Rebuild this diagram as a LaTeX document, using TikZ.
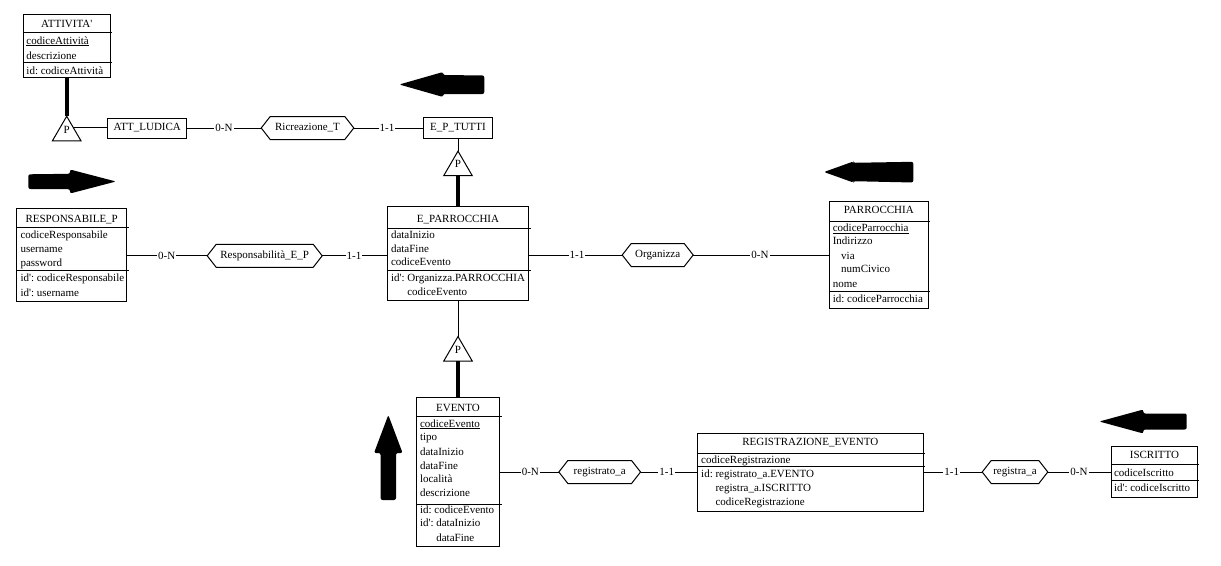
\documentclass[tikz,border=0pt]{standalone}
\usepackage{fontspec}
\setmainfont{Liberation Serif}
\usetikzlibrary{calc}
% straight apostrophe as used in identifier labels
\newcommand{\ap}{\textquotesingle}
% underlined primary-key attribute
\newcommand{\keyattr}[1]{\setbox0\hbox{#1}\rlap{\rule[-1.6pt]{\wd0}{0.9pt}}\box0}
% horizontal separator inside an entity box, slightly overshooting the right edge
\newcommand{\sepline}[2]{\draw (#1.west |- 0,#2) -- ($(#1.east |- 0,#2)+(1.5,0)$);}
% relationship: hexagon around a named node
\newcommand{\relship}[5]{%
  \node[relbox, minimum width=#4pt] (#1) at (#2,#3) {#5};
  \draw (#1.west) -- ($(#1.north west)+(9,0)$) -- ($(#1.north east)+(-9,0)$)
    -- (#1.east) -- ($(#1.south east)+(-9,0)$) -- ($(#1.south west)+(9,0)$) -- cycle;}
% is-a triangle marked P
\newcommand{\isatri}[3]{%
  \node[isa] (#1) at (#2,#3) {};
  \draw (#1.north) -- (#1.south east) -- (#1.south west) -- cycle;
  \node[anchor=base, inner sep=0pt] (#1-p) at ($(#1.south)+(0,-7.7)$) {P};}
\begin{document}
\frenchspacing
\begin{tikzpicture}[x=1pt, y=-1pt, line width=1pt,
  font=\fontsize{11}{13}\selectfont,
  box/.style={draw, inner sep=0pt},
  lbl/.style={anchor=base west, inner sep=0pt},
  ttl/.style={anchor=base, inner sep=0pt},
  single/.style={draw, inner sep=0pt, text height=7.3pt, text depth=1.6pt},
  relbox/.style={inner sep=0pt, minimum height=22pt, text height=7.3pt, text depth=1.6pt},
  card/.style={fill=white, inner sep=1pt, text height=7.3pt, text depth=0pt},
  isa/.style={inner sep=0pt, minimum width=27.5pt, minimum height=23.5pt},
  heavy/.style={line width=4pt},
  bigarrow/.style={fill=black, rounded corners=2pt}]

\fill[white] (0,0) rectangle (1221,565);
\useasboundingbox (0,0) rectangle (1221,565);

% ---------- ATTIVITA'
\node[box, minimum width=86.7pt, minimum height=63pt] (att) at (66.7,45.8) {};
\node[ttl] (att-t) at (66.7,27.2) {ATTIVITA\ap};
\sepline{att}{32.3}
\node[lbl] (att-1) at (26,44.2) {\keyattr{codiceAttività}};
\node[lbl] (att-2) at (26,59.4) {descrizione};
\sepline{att}{62.7}
\node[lbl] (att-3) at (26,74.5) {id: codiceAttività};

% ---------- ATT_LUDICA and E_P_TUTTI
\node[single, minimum width=78.7pt, minimum height=20pt] (lud) at (147.3,128) {ATT\_LUDICA};
\node[single, minimum width=68.4pt, minimum height=21pt] (ept) at (458,128) {E\_P\_TUTTI};

% ---------- RESPONSABILE_P
\node[box, minimum width=110pt, minimum height=92.7pt] (resp) at (71.7,254.65) {};
\node[ttl] (resp-t) at (71.7,222) {RESPONSABILE\_P};
\sepline{resp}{227.7}
\node[lbl] (resp-1) at (20,238.5) {codiceResponsabile};
\node[lbl] (resp-2) at (20,252.8) {username};
\node[lbl] (resp-3) at (20,266.2) {password};
\sepline{resp}{270}
\node[lbl] (resp-4) at (20,281.8) {id\ap: codiceResponsabile};
\node[lbl] (resp-5) at (20,296.2) {id\ap: username};

% ---------- E_PARROCCHIA
\node[box, minimum width=141.6pt, minimum height=93.3pt] (epar) at (458,253.35) {};
\node[ttl] (epar-t) at (458,222) {E\_PARROCCHIA};
\sepline{epar}{228.3}
\node[lbl] (epar-1) at (390.5,238.2) {dataInizio};
\node[lbl] (epar-2) at (390.5,252.5) {dataFine};
\node[lbl] (epar-3) at (390.5,265.8) {codiceEvento};
\sepline{epar}{270}
\node[lbl] (epar-4) at (390.5,281.8) {id\ap: Organizza.PARROCCHIA};
\node[lbl] (epar-5) at (390.5,295.8) {\phantom{id\ap: }codiceEvento};

% ---------- PARROCCHIA
\node[box, minimum width=99pt, minimum height=107.3pt] (par) at (878.8,254.65) {};
\node[ttl] (par-t) at (878.8,213.6) {PARROCCHIA};
\sepline{par}{221}
\node[lbl] (par-1) at (832.3,231.8) {\keyattr{codiceParrocchia}};
\node[lbl] (par-2) at (832.3,244.8) {Indirizzo};
\node[lbl] (par-3) at (840.7,259.2) {via};
\node[lbl] (par-4) at (840.7,272.8) {numCivico};
\node[lbl] (par-5) at (832.3,287.5) {nome};
\sepline{par}{291.7}
\node[lbl] (par-6) at (832.3,302.8) {id: codiceParrocchia};

% ---------- EVENTO
\node[box, minimum width=83.3pt, minimum height=149pt] (ev) at (458,472) {};
\node[ttl] (ev-t) at (458,411) {EVENTO};
\sepline{ev}{416.7}
\node[lbl] (ev-1) at (419.5,427.5) {\keyattr{codiceEvento}};
\node[lbl] (ev-2) at (419.5,440.8) {tipo};
\node[lbl] (ev-3) at (419.5,455.2) {dataInizio};
\node[lbl] (ev-4) at (419.5,469.2) {dataFine};
\node[lbl] (ev-5) at (419.5,482.8) {località};
\node[lbl] (ev-6) at (419.5,496.8) {descrizione};
\sepline{ev}{504}
\node[lbl] (ev-7) at (419.5,513.5) {id: codiceEvento};
\node[lbl] (ev-8) at (419.5,526.8) {id\ap: dataInizio};
\node[lbl] (ev-9) at (419.5,541.2) {\phantom{id\ap: }dataFine};

% ---------- REGISTRAZIONE_EVENTO
\node[box, minimum width=226pt, minimum height=78pt] (reg) at (810.3,472) {};
\node[ttl] (reg-t) at (810.3,445.3) {REGISTRAZIONE\_EVENTO};
\sepline{reg}{453.3}
\node[lbl] (reg-1) at (700.7,463.5) {codiceRegistrazione};
\sepline{reg}{466.7}
\node[lbl] (reg-2) at (700.7,477) {id: registrato\_a.EVENTO};
\node[lbl] (reg-3) at (700.7,491) {\phantom{id: }registra\_a.ISCRITTO};
\node[lbl] (reg-4) at (700.7,505) {\phantom{id: }codiceRegistrazione};

% ---------- ISCRITTO
\node[box, minimum width=85.6pt, minimum height=51.7pt] (isc) at (1154.5,472) {};
\node[ttl] (isc-t) at (1154.5,458.5) {ISCRITTO};
\sepline{isc}{464.3}
\node[lbl] (isc-1) at (1113.5,476.2) {codiceIscritto};
\sepline{isc}{480}
\node[lbl] (isc-2) at (1113.5,491.8) {id\ap: codiceIscritto};

% ---------- relationships
\relship{ric}{307.5}{128}{91.6}{Ricreazione\_T}
\relship{rsp}{264.7}{255.8}{114}{Responsabilità\_E\_P}
\relship{org}{657.7}{255}{70}{Organizza}
\relship{rgd}{599.7}{472}{80.7}{registrato\_a}
\relship{rga}{1015}{472}{64.6}{registra\_a}

% ---------- is-a hierarchies
\isatri{t1}{66.7}{128.5}
\isatri{t2}{458}{163.4}
\isatri{t3}{458}{348.8}
\coordinate (t1r) at ($(t1.north)!0.47!(t1.south east)$);

\draw[heavy] (att.south) -- (t1.north);
\draw (t1r) -- (t1r -| lud.west);
\draw (ept.south) -- (t2.north);
\draw[heavy] (t2.south) -- (epar.north);
\draw (epar.south) -- (t3.north);
\draw[heavy] (t3.south) -- (ev.north);

% ---------- connectors
\draw (lud) -- (ric);
\draw (ric) -- (ept);
\draw (resp.east |- rsp.west) -- (rsp.west);
\draw (rsp.east) -- (rsp.east -| epar.west);
\draw (epar.east |- org.west) -- (org.west);
\draw (org.east) -- (org.east -| par.west);
\draw (ev) -- (rgd);
\draw (rgd) -- (reg);
\draw (reg) -- (rga);
\draw (rga) -- (isc);

% ---------- cardinalities
\node[card] (c1) at (224,128) {0-N};
\node[card] (c2) at (387,128) {1-1};
\node[card] (c3) at (166.7,255.8) {0-N};
\node[card] (c4) at (354,255.8) {1-1};
\node[card] (c5) at (577,255) {1-1};
\node[card] (c6) at (760,255) {0-N};
\node[card] (c7) at (530.3,472) {0-N};
\node[card] (c8) at (666.7,472) {1-1};
\node[card] (c9) at (951.7,472) {1-1};
\node[card] (c10) at (1079,472) {0-N};

% ---------- block arrows
\fill[bigarrow] (399.3,84.5) -- (443,72) -- (443,75) -- (484.3,75.5) -- (484.3,94) -- (443,94) -- (443,97) -- cycle;
\fill[bigarrow] (116,181.5) -- (70,169.5) -- (70,173.8) -- (28.3,174.3) -- (28.3,189) -- (70,189.2) -- (70,193.5) -- cycle;
\fill[bigarrow] (824,172) -- (853.3,161.5) -- (853.3,162.8) -- (913.3,161.8) -- (913.3,182.5) -- (853.3,181.2) -- (853.3,182.5) -- cycle;
\fill[bigarrow] (1099.3,421.5) -- (1143.3,409.5) -- (1143.3,413.5) -- (1186.7,413.5) -- (1186.7,429.5) -- (1143.3,429.5) -- (1143.3,433.5) -- cycle;
\fill[bigarrow] (388.3,415) -- (402.6,453) -- (396,453) -- (396,500) -- (380.6,500) -- (380.6,453) -- (374,453) -- cycle;

\end{tikzpicture}
\end{document}
